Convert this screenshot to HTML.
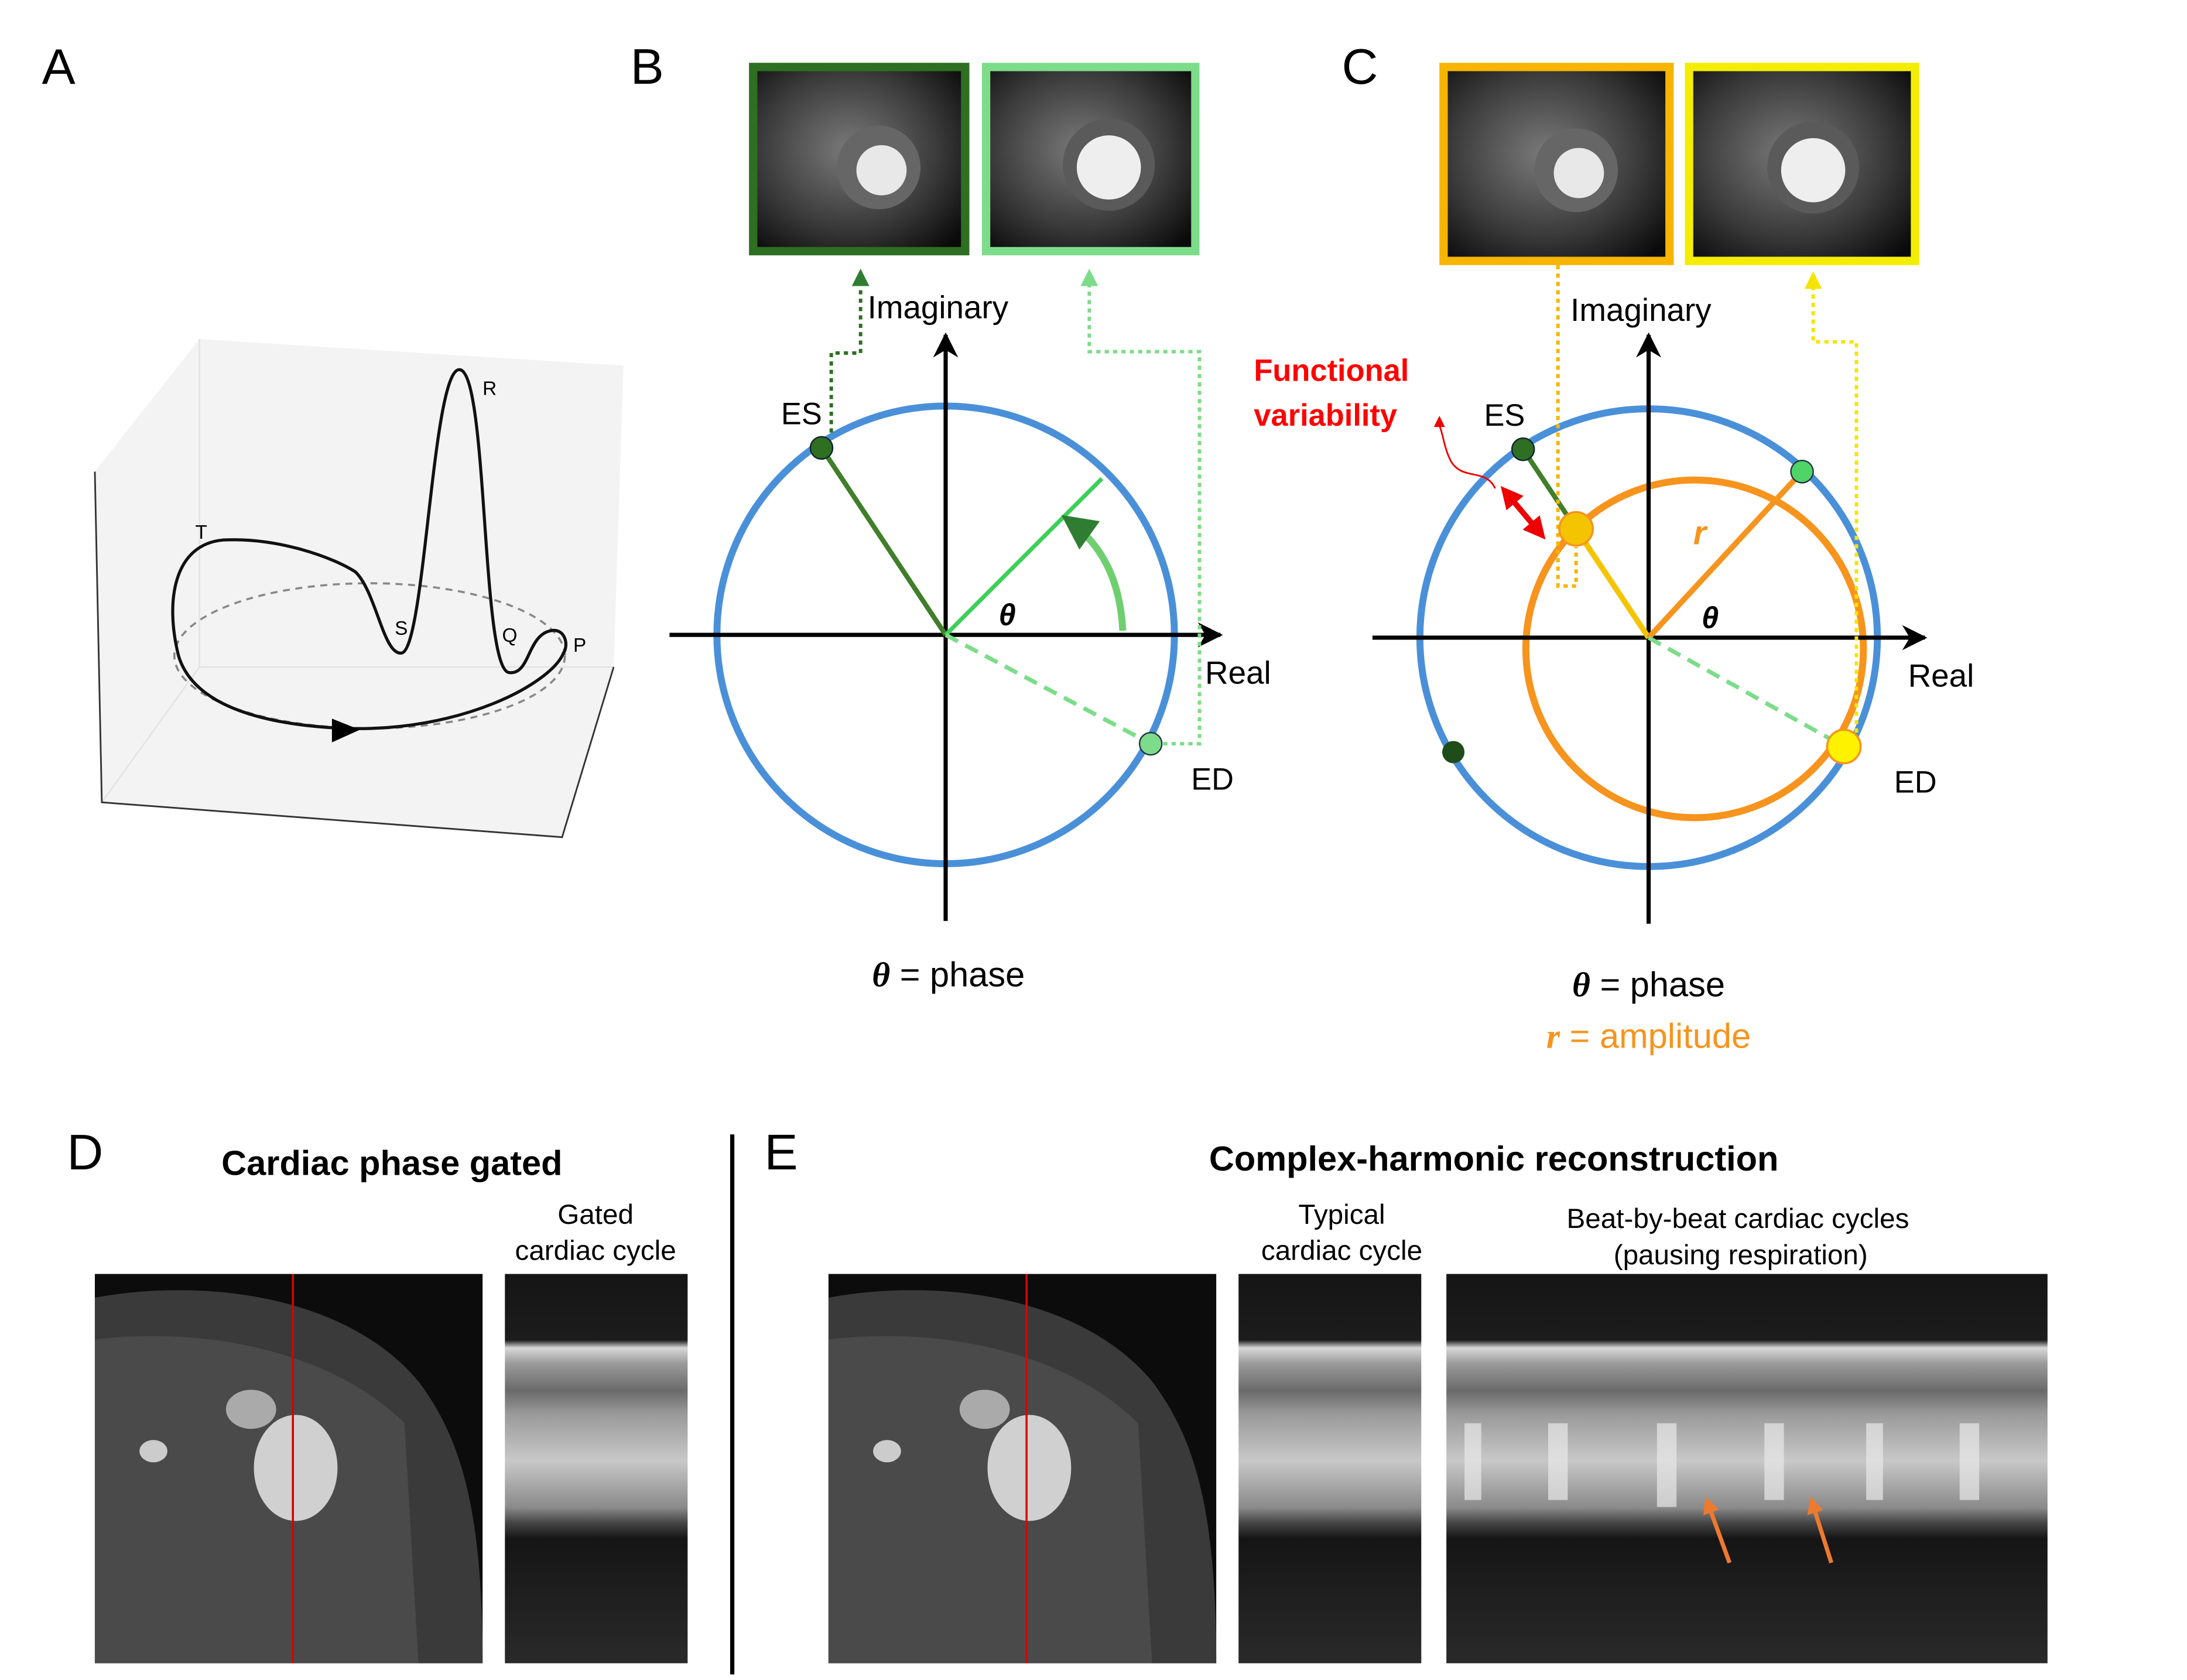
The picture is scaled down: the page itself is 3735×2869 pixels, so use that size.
<!DOCTYPE html>
<html><head><meta charset="utf-8"><style>html,body{margin:0;padding:0;background:#fff}svg{display:block}text{font-family:"Liberation Sans",sans-serif}</style></head>
<body>
<svg width="3735" height="2869" viewBox="0 0 1568 1204" preserveAspectRatio="none" xmlns="http://www.w3.org/2000/svg">
<defs>
<marker id="ah" viewBox="0 0 10 10" refX="9" refY="5" markerWidth="6" markerHeight="6" orient="auto-start-reverse"><path d="M0,0 L10,5 L0,10 L3,5z" fill="#000"/></marker>
<marker id="ahg" viewBox="0 0 10 10" refX="8" refY="5" markerWidth="5" markerHeight="5" orient="auto"><path d="M0,0 L10,5 L0,10z" fill="#2e7d32"/></marker>
<marker id="ahlg" viewBox="0 0 10 10" refX="8" refY="5" markerWidth="5" markerHeight="5" orient="auto"><path d="M0,0 L10,5 L0,10z" fill="#7ddc8a"/></marker>
<marker id="ahy" viewBox="0 0 10 10" refX="8" refY="5" markerWidth="5" markerHeight="5" orient="auto"><path d="M0,0 L10,5 L0,10z" fill="#f5e400"/></marker>
<marker id="ahr" viewBox="0 0 10 10" refX="7" refY="5" markerWidth="4" markerHeight="4" orient="auto-start-reverse"><path d="M0,0 L10,5 L0,10z" fill="#e00"/></marker>
<marker id="aho" viewBox="0 0 10 10" refX="7" refY="5" markerWidth="4" markerHeight="4" orient="auto"><path d="M0,0 L10,5 L0,10z" fill="#ee7a30"/></marker>
<linearGradient id="strip" x1="0" y1="0" x2="0" y2="1">
<stop offset="0" stop-color="#151515"/><stop offset="0.17" stop-color="#1c1c1c"/><stop offset="0.19" stop-color="#d8d8d8"/><stop offset="0.23" stop-color="#9a9a9a"/><stop offset="0.3" stop-color="#6a6a6a"/><stop offset="0.36" stop-color="#9a9a9a"/><stop offset="0.48" stop-color="#c8c8c8"/><stop offset="0.6" stop-color="#8a8a8a"/><stop offset="0.64" stop-color="#444"/><stop offset="0.68" stop-color="#151515"/><stop offset="1" stop-color="#2a2a2a"/></linearGradient>
<radialGradient id="mri" cx="0.45" cy="0.45" r="0.7"><stop offset="0" stop-color="#7a7a7a"/><stop offset="0.6" stop-color="#3a3a3a"/><stop offset="1" stop-color="#0a0a0a"/></radialGradient>
</defs>

<!-- Panel A -->
<text x="30" y="60" font-size="36">A</text>
<polygon points="68,338 143,243 447,262 440,478 403,600 73,575" fill="#f3f3f3"/>
<polyline points="143,243 143,478 440,478" fill="none" stroke="#e2e2e2" stroke-width="1"/>
<line x1="143" y1="478" x2="73" y2="575" stroke="#e2e2e2"/>
<polyline points="68,338 73,575 403,600 440,478" fill="none" stroke="#333" stroke-width="1.2"/>
<ellipse cx="265" cy="470" rx="140" ry="52" fill="none" stroke="#888" stroke-width="1.5" stroke-dasharray="5,4"/>
<path d="M247,522 C200,520 140,510 128,470 C118,430 125,390 160,387 C200,385 240,400 255,410 C270,425 275,470 288,468 C305,465 310,260 330,265 C350,270 345,480 365,482 C380,484 378,455 395,452 C405,450 408,462 404,468 C395,490 330,525 247,522 Z" fill="none" stroke="#111" stroke-width="2.2"/>
<polygon points="238,515 258,523 238,532" fill="#000"/>
<text x="346" y="283" font-size="14">R</text>
<text x="140" y="386" font-size="14">T</text>
<text x="283" y="455" font-size="14">S</text>
<text x="360" y="460" font-size="14">Q</text>
<text x="411" y="467" font-size="14">P</text>

<!-- Panel B -->
<text x="452" y="60" font-size="36">B</text>
<rect x="540" y="48" width="152" height="132" fill="url(#mri)" stroke="#2e6f22" stroke-width="6"/>
<circle cx="630" cy="120" r="30" fill="#666"/><circle cx="632" cy="122" r="18" fill="#e8e8e8"/>
<rect x="707" y="48" width="150" height="132" fill="url(#mri)" stroke="#7ddc8a" stroke-width="6"/>
<circle cx="795" cy="118" r="33" fill="#5a5a5a"/><circle cx="795" cy="120" r="23" fill="#eee"/>
<circle cx="678" cy="455" r="164" fill="none" stroke="#4a90d9" stroke-width="5"/>
<line x1="480" y1="455" x2="875" y2="455" stroke="#000" stroke-width="3" marker-end="url(#ah)"/>
<line x1="678" y1="660" x2="678" y2="240" stroke="#000" stroke-width="3" marker-end="url(#ah)"/>
<line x1="678" y1="455" x2="589" y2="321" stroke="#3f7f2a" stroke-width="3.5"/>
<line x1="678" y1="455" x2="790" y2="343" stroke="#3dcf5a" stroke-width="3"/>
<line x1="678" y1="455" x2="825" y2="533" stroke="#7ddc8a" stroke-width="3" stroke-dasharray="10,6"/>
<path d="M805,452 C803,415 790,390 765,372" fill="none" stroke="#6fcf6f" stroke-width="5" marker-end="url(#ahg)"/>
<circle cx="589" cy="321" r="8" fill="#2e6f22" stroke="#123" stroke-width="1"/>
<circle cx="825" cy="533" r="8" fill="#7ddc8a" stroke="#234" stroke-width="1"/>
<polyline points="596,310 596,253 617,253 617,195" fill="none" stroke="#2e6f22" stroke-width="2.5" stroke-dasharray="3,3" marker-end="url(#ahg)"/>
<polyline points="834,533 860,533 860,252 781,252 781,195" fill="none" stroke="#7ddc8a" stroke-width="2.5" stroke-dasharray="3,3" marker-end="url(#ahlg)"/>
<text x="622" y="228" font-size="23">Imaginary</text>
<text x="864" y="490" font-size="23">Real</text>
<text x="560" y="304" font-size="22">ES</text>
<text x="854" y="566" font-size="22">ED</text>
<text x="716" y="448" font-size="22" font-style="italic" font-weight="bold" font-family="Liberation Serif">θ</text>
<text x="680" y="707" font-size="25" text-anchor="middle"><tspan font-style="italic" font-weight="bold" font-family="Liberation Serif">θ</tspan> = phase</text>

<!-- Panel C -->
<text x="962" y="60" font-size="36">C</text>
<rect x="1035" y="48" width="162" height="139" fill="url(#mri)" stroke="#f7b500" stroke-width="6"/>
<circle cx="1130" cy="122" r="30" fill="#666"/><circle cx="1132" cy="124" r="18" fill="#e8e8e8"/>
<rect x="1211" y="48" width="162" height="139" fill="url(#mri)" stroke="#f5ed00" stroke-width="6"/>
<circle cx="1300" cy="120" r="33" fill="#5a5a5a"/><circle cx="1300" cy="122" r="23" fill="#eee"/>
<circle cx="1182" cy="457" r="164" fill="none" stroke="#4a90d9" stroke-width="5"/>
<circle cx="1215" cy="465" r="121" fill="none" stroke="#f7941d" stroke-width="5"/>
<line x1="984" y1="457" x2="1380" y2="457" stroke="#000" stroke-width="3" marker-end="url(#ah)"/>
<line x1="1182" y1="662" x2="1182" y2="240" stroke="#000" stroke-width="3" marker-end="url(#ah)"/>
<line x1="1092" y1="322" x2="1130" y2="379" stroke="#3f7f2a" stroke-width="3.5"/>
<line x1="1130" y1="379" x2="1182" y2="457" stroke="#f5c400" stroke-width="4"/>
<line x1="1182" y1="457" x2="1292" y2="338" stroke="#f7941d" stroke-width="4"/>
<line x1="1182" y1="457" x2="1322" y2="535" stroke="#7ddc8a" stroke-width="3" stroke-dasharray="10,6"/>
<polyline points="1117,190 1117,420 1130,420 1130,392" fill="none" stroke="#f7b500" stroke-width="2.5" stroke-dasharray="3,3"/>
<polyline points="1331,525 1331,245 1300,245 1300,197" fill="none" stroke="#f5e400" stroke-width="2.5" stroke-dasharray="3,3" marker-end="url(#ahy)"/>
<circle cx="1092" cy="322" r="8" fill="#2e6f22" stroke="#123"/>
<circle cx="1292" cy="338" r="8" fill="#4fd468" stroke="#234"/>
<circle cx="1042" cy="539" r="8" fill="#1e4d1a"/>
<circle cx="1130" cy="379" r="12" fill="#f5c400" stroke="#f7941d" stroke-width="1.5"/>
<circle cx="1322" cy="535" r="12" fill="#fff200" stroke="#f7941d" stroke-width="1.5"/>
<line x1="1079" y1="352" x2="1105" y2="383" stroke="#e00" stroke-width="4" marker-end="url(#ahr)" marker-start="url(#ahr)"/>
<path d="M1072,350 C1065,335 1048,345 1040,330 C1035,320 1035,312 1032,305" fill="none" stroke="#e00" stroke-width="1.2"/>
<polygon points="1028,306 1032,298 1036,306" fill="#e00"/>
<text x="899" y="273" font-size="22" font-weight="bold" fill="#f00">Functional</text>
<text x="899" y="305" font-size="22" font-weight="bold" fill="#f00">variability</text>
<text x="1126" y="230" font-size="23">Imaginary</text>
<text x="1368" y="492" font-size="23">Real</text>
<text x="1064" y="305" font-size="22">ES</text>
<text x="1358" y="568" font-size="22">ED</text>
<text x="1214" y="390" font-size="24" font-style="italic" font-weight="bold" fill="#f7941d" font-family="Liberation Serif">r</text>
<text x="1220" y="450" font-size="22" font-style="italic" font-weight="bold" font-family="Liberation Serif">θ</text>
<text x="1182" y="714" font-size="25" text-anchor="middle"><tspan font-style="italic" font-weight="bold" font-family="Liberation Serif">θ</tspan> = phase</text>
<text x="1182" y="751" font-size="25" text-anchor="middle" fill="#f7941d"><tspan font-style="italic" font-weight="bold" font-family="Liberation Serif">r</tspan> = amplitude</text>

<!-- Panel D -->
<text x="48" y="838" font-size="36">D</text>
<text x="281" y="842" font-size="25" font-weight="bold" text-anchor="middle">Cardiac phase gated</text>
<text x="427" y="877" font-size="20" text-anchor="middle">Gated</text>
<text x="427" y="903" font-size="20" text-anchor="middle">cardiac cycle</text>
<rect x="68" y="913" width="278" height="279" fill="#0c0c0c"/>
<path d="M68,930 C150,915 250,930 300,990 C330,1030 346,1080 346,1192 L68,1192Z" fill="#3a3a3a"/>
<path d="M68,960 C150,950 240,970 290,1020 L300,1192 L68,1192Z" fill="#4a4a4a"/>
<ellipse cx="212" cy="1052" rx="30" ry="38" fill="#d0d0d0"/>
<ellipse cx="110" cy="1040" rx="10" ry="8" fill="#ccc"/>
<ellipse cx="180" cy="1010" rx="18" ry="14" fill="#aaa"/>
<line x1="210" y1="913" x2="210" y2="1192" stroke="#d00" stroke-width="1.5"/>
<rect x="362" y="913" width="131" height="279" fill="url(#strip)"/>
<line x1="525" y1="813" x2="525" y2="1200" stroke="#000" stroke-width="3"/>

<!-- Panel E -->
<text x="548" y="838" font-size="36">E</text>
<text x="1071" y="839" font-size="25" font-weight="bold" text-anchor="middle">Complex-harmonic reconstruction</text>
<text x="962" y="877" font-size="20" text-anchor="middle">Typical</text>
<text x="962" y="903" font-size="20" text-anchor="middle">cardiac cycle</text>
<text x="1246" y="880" font-size="20" text-anchor="middle">Beat-by-beat cardiac cycles</text>
<text x="1248" y="906" font-size="20" text-anchor="middle">(pausing respiration)</text>
<rect x="594" y="913" width="278" height="279" fill="#0c0c0c"/>
<path d="M594,930 C676,915 776,930 826,990 C856,1030 872,1080 872,1192 L594,1192Z" fill="#3a3a3a"/>
<path d="M594,960 C676,950 766,970 816,1020 L826,1192 L594,1192Z" fill="#4a4a4a"/>
<ellipse cx="738" cy="1052" rx="30" ry="38" fill="#d0d0d0"/>
<ellipse cx="636" cy="1040" rx="10" ry="8" fill="#ccc"/>
<ellipse cx="706" cy="1010" rx="18" ry="14" fill="#aaa"/>
<line x1="736" y1="913" x2="736" y2="1192" stroke="#d00" stroke-width="1.5"/>
<rect x="888" y="913" width="131" height="279" fill="url(#strip)"/>
<rect x="1037" y="913" width="431" height="279" fill="url(#strip)"/>
<g fill="#e8e8e8" opacity="0.7">
<rect x="1050" y="1020" width="12" height="55"/><rect x="1110" y="1020" width="14" height="55"/><rect x="1188" y="1020" width="14" height="60"/><rect x="1265" y="1020" width="14" height="55"/><rect x="1338" y="1020" width="12" height="55"/><rect x="1405" y="1020" width="14" height="55"/></g>
<line x1="1240" y1="1120" x2="1224" y2="1076" stroke="#ee7a30" stroke-width="3" marker-end="url(#aho)"/>
<line x1="1313" y1="1120" x2="1299" y2="1076" stroke="#ee7a30" stroke-width="3" marker-end="url(#aho)"/>
</svg>
</body></html>
